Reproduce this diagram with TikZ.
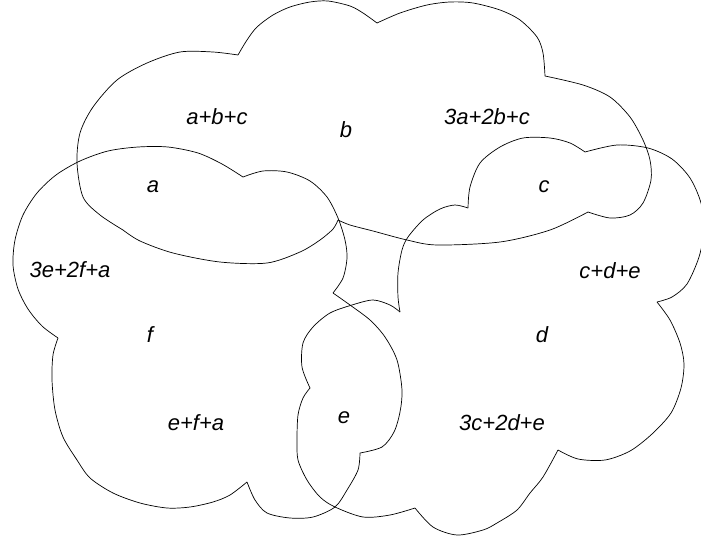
\documentclass[tikz,border=0pt]{standalone}
\usepackage{fontspec}
\setmainfont{Liberation Sans}
\begin{document}
\begin{tikzpicture}[x=1pt,y=-1pt,
  cl/.style={line width=0.7pt, black, line join=round},
  lbl/.style={font=\fontsize{22}{26}\selectfont\itshape, inner sep=0pt, anchor=center}]
\useasboundingbox (0,0) rectangle (701,543);
% ---- top cloud (b)
\draw[cl] plot[smooth] coordinates {(123,230) (100,215) (83,197) (77,163) (80,133) (93,107) (117,80) (147,63) (180,52) (213,52) (238,55)};
\draw[cl] plot[smooth] coordinates {(238,55) (247,40) (257,27) (273,15) (290,7) (310,2) (328,1) (350,6) (363,13) (377,23)};
\draw[cl] plot[smooth] coordinates {(377,23) (400,13) (427,5) (450,2) (473,3) (500,10) (520,20) (537,37) (543,53) (545,76)};
\draw[cl] plot[smooth] coordinates {(545,76) (583,85) (610,97) (630,117) (643,140) (650,160) (651,180) (643,203) (630,215) (610,218) (588,212)};
\draw[cl] plot[smooth] coordinates {(588,212) (550,230) (500,242) (437,245) (407,240) (373,231) (350,225) (338,220)};
\draw[cl] plot[smooth] coordinates {(338,220) (333,229) (320,240) (300,252) (267,263) (220,262) (173,253) (140,241) (123,230)};
% ---- left cloud (f)
\draw[cl] plot[smooth] coordinates {(58,338) (42,326) (28,309) (18,289) (13,265) (15,240) (23,215) (37,193) (56,175) (80,161) (108,151) (138,147) (168,147) (198,153) (222,164) (243,177)};
\draw[cl] plot[smooth] coordinates {(243,177) (263,171) (287,172) (310,181) (327,197) (338,218) (345,240) (347,258) (343,278) (333,293)};
\draw[cl] plot[smooth] coordinates {(333,293) (350,305) (370,320) (385,337) (397,360) (402,390) (400,412) (394,432) (382,447) (360,453)};
\draw[cl] plot[smooth] coordinates {(360,453) (358,470) (347,490) (335,507) (313,517) (290,518) (267,513) (255,500) (247,482)};
\draw[cl] plot[smooth] coordinates {(247,482) (230,495) (213,502) (190,507) (167,508) (140,503) (113,493) (90,478) (77,460) (63,437) (55,410) (52,380) (53,355) (58,338)};
% ---- right cloud (d)
\draw[cl] plot[smooth] coordinates {(310,388) (302,367) (303,343) (313,327) (330,313) (352,305) (373,300) (390,305) (400,312)};
\draw[cl] plot[smooth] coordinates {(400,312) (398,297) (398,273) (402,250) (408,237) (423,220) (440,209) (455,205) (468,208)};
\draw[cl] plot[smooth] coordinates {(468,208) (470,187) (480,163) (500,147) (523,138) (550,138) (570,143) (585,152)};
\draw[cl] plot[smooth] coordinates {(585,152) (617,145) (648,148) (672,159) (690,178) (701,203) (704,230) (699,257) (687,284) (672,297) (657,302)};
\draw[cl] plot[smooth] coordinates {(657,302) (670,320) (680,343) (684,364) (681,388) (671,413) (652,434) (630,451) (605,460) (578,459) (558,450)};
\draw[cl] plot[smooth] coordinates {(558,450) (543,477) (530,493) (517,510) (497,523) (483,530) (457,535) (433,527) (415,508)};
\draw[cl] plot[smooth] coordinates {(415,508) (390,515) (363,517) (335,507) (320,497) (307,480) (298,460) (297,440) (298,415) (303,398) (310,388)};
% ---- labels
\node[lbl] (abc) at (217,117) {a+b+c};
\node[lbl] (b) at (346,130) {b};
\node[lbl] (aabbc) at (487,117) {3a+2b+c};
\node[lbl] (a) at (153,187) {a};
\node[lbl] (c) at (544,187) {c};
\node[lbl] (eefa) at (70,270) {3e+2f+a};
\node[lbl] (cde) at (610,271) {c+d+e};
\node[lbl] (f) at (150,335) {f};
\node[lbl] (d) at (542,335) {d};
\node[lbl] (efa) at (196,423) {e+f+a};
\node[lbl] (e) at (344,418) {e};
\node[lbl] (ccde) at (502,423) {3c+2d+e};
\end{tikzpicture}
\end{document}
